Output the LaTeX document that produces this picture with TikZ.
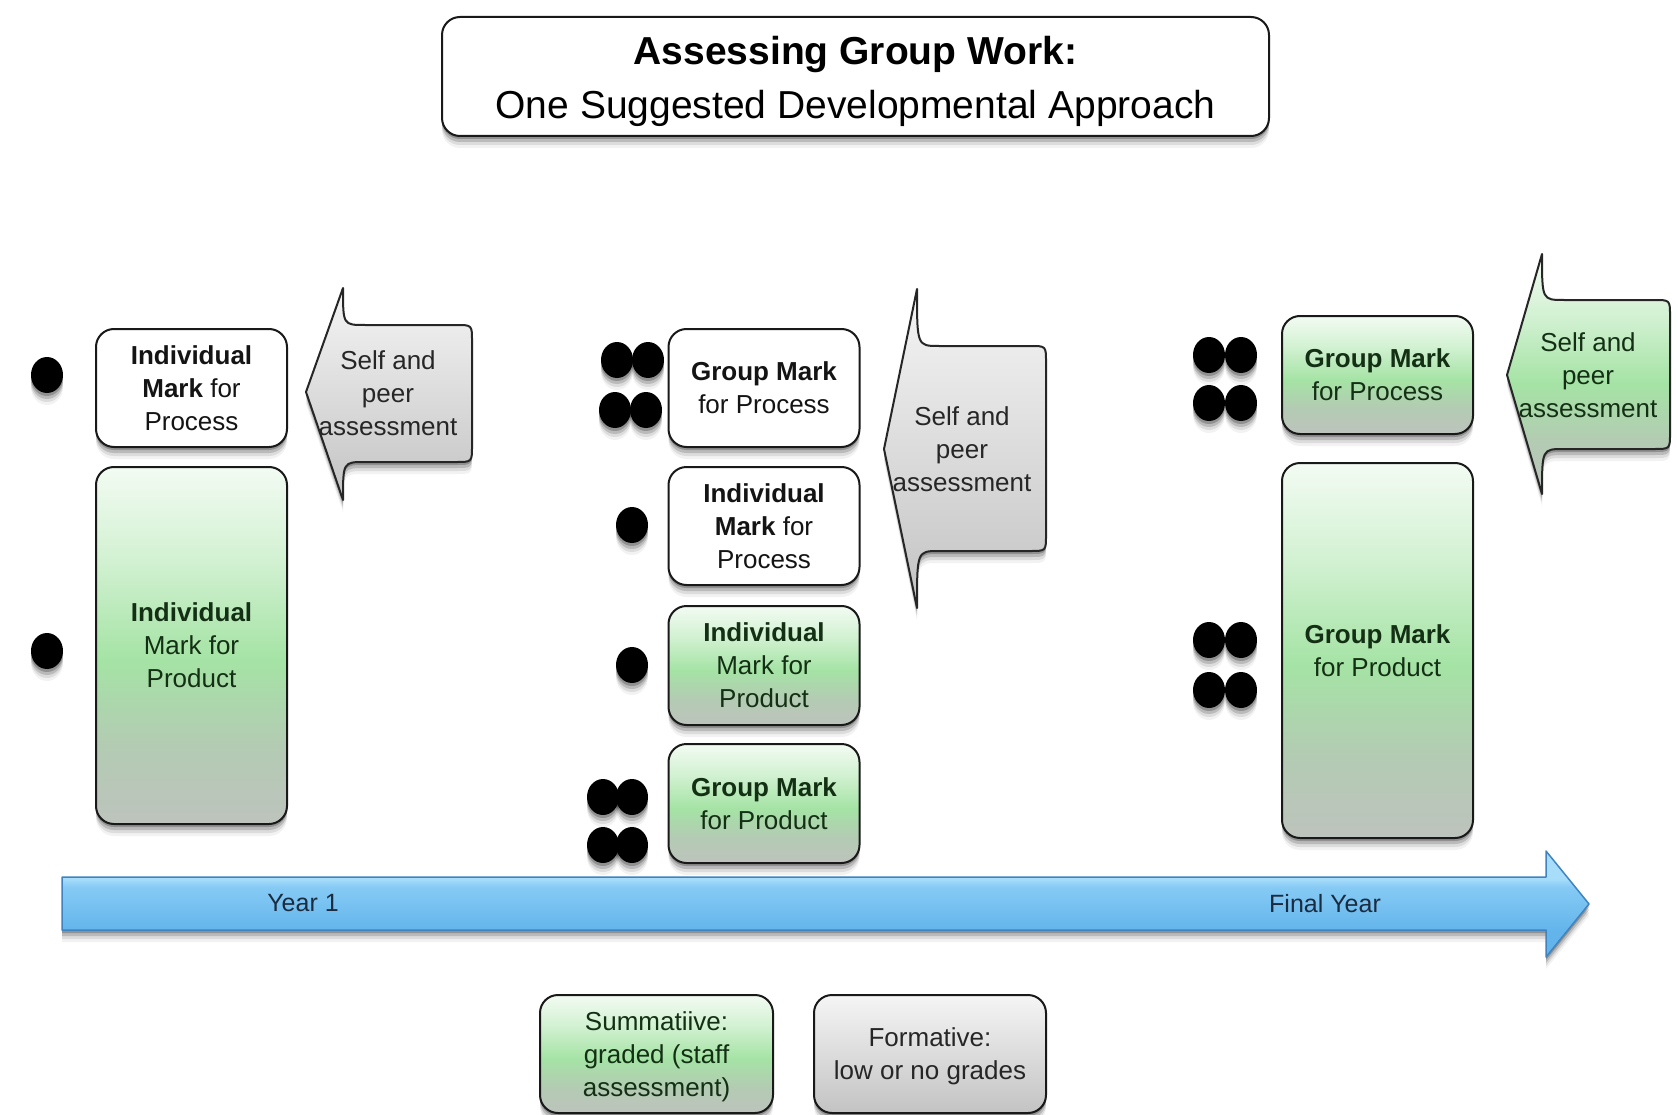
\documentclass[tikz,border=0pt]{standalone}
\usepackage{fontspec}
\setmainfont{Liberation Sans}
\usetikzlibrary{shadows,shapes.geometric}

\definecolor{gtop}{HTML}{F3FBF3}
\definecolor{glt}{HTML}{D2F1D2}
\definecolor{gmid}{HTML}{A5E3A5}
\definecolor{gbt}{HTML}{B3CBB3}
\definecolor{gbot}{HTML}{BDC3BD}
\definecolor{wtop}{HTML}{F5F5F5}
\definecolor{wbot}{HTML}{C3C3C3}
\definecolor{bhi}{HTML}{A8DDFA}
\definecolor{btop}{HTML}{86CAF5}
\definecolor{bbot}{HTML}{62B4EB}
\definecolor{bline}{HTML}{3F84C0}
\definecolor{txtgreen}{HTML}{143014}
\definecolor{navytext}{HTML}{1C2C40}

\pgfdeclareverticalshading{greenfill}{100bp}{color(0bp)=(gbot); color(25bp)=(gbot); color(36bp)=(gbt); color(48bp)=(gmid); color(62bp)=(glt); color(75bp)=(gtop); color(100bp)=(gtop)}
\pgfdeclareverticalshading{grayfill}{100bp}{color(0bp)=(wbot); color(25bp)=(wbot); color(75bp)=(wtop); color(100bp)=(wtop)}
\pgfdeclareverticalshading{bluefill}{100bp}{color(0bp)=(bbot); color(37bp)=(bbot); color(58bp)=(btop); color(62bp)=(bhi); color(100bp)=(bhi)}

% #1 tipx #2 tipy #3 headx #4 topy #5 boty #6 bodytop #7 bodybottom #8 bodyright #9 fill options
\newcommand\sparrowpath[9]{%
  \path[sparrow,#9] (#1,#2) -- (#3,#4) .. controls (#3,#6) .. (#3+22,#6)
    -- (#8-16,#6) .. controls (#8,#6) .. (#8,#6+16)
    -- (#8,#7-16) .. controls (#8,#7) .. (#8-16,#7)
    -- (#3+22,#7) .. controls (#3,#7) .. (#3,#5) -- cycle;}

\begin{document}
\begin{tikzpicture}[x=1pt,y=-1pt,
  every node/.style={font=\fontsize{26}{33}\selectfont},
  sh/.style={general shadow={shadow xshift=0pt,shadow yshift=-3pt,opacity=.22,fill=black},
             general shadow={shadow xshift=0pt,shadow yshift=-6pt,opacity=.15,fill=black},
             general shadow={shadow xshift=0pt,shadow yshift=-9pt,opacity=.09,fill=black},
             general shadow={shadow xshift=0pt,shadow yshift=-12pt,opacity=.05,fill=black}},
  box/.style={sh, draw=black!90, line width=2pt, rounded corners=18pt, minimum width=191pt, inner sep=0pt, align=center},
  whitebox/.style={box, fill=white, text=black!92},
  greenbox/.style={box, shade, shading=greenfill, text=txtgreen},
  graybox/.style={box, shade, shading=grayfill, text=black!85},
  dot/.style={ellipse, fill=black, minimum width=32pt, minimum height=36pt, inner sep=0pt, sh},
  sparrow/.style={sh, draw=black!85, line width=2pt, line join=round},
  sptext/.style={align=center, text=black!85},
  tltext/.style={text=navytext, font=\fontsize{25}{30}\selectfont}
]
\fill[white] (0,0) rectangle (1678,1115);
\useasboundingbox (0,0) rectangle (1678,1115);

% title
\node[whitebox, minimum width=827pt, minimum height=119pt] (title) at (855.5,76.5) {};
\node[align=center, font=\fontsize{39}{54}\selectfont] (titletext) at (855.5,81.5)
  {\textbf{Assessing Group Work:}\\One Suggested Developmental Approach};

% ---------- left column (Year 1)
\node[dot] (d1) at (47,375) {};
\node[whitebox, minimum height=118pt] (imp1) at (191.5,388) {\textbf{Individual}\\\textbf{Mark} for\\Process};
\node[dot] (d2) at (47,651) {};
\node[greenbox, minimum height=357pt] (impr1) at (191.5,645.5) {\textbf{Individual}\\Mark for\\Product};
\sparrowpath{306}{392}{343}{288}{500}{325}{462}{472}{shade,shading=grayfill}
\node[sptext] (sp1) at (388,393) {Self and\\peer\\assessment};

% ---------- middle column
\node[dot] (g2a) at (617,360) {};
\node[dot] (g2b) at (648,360) {};
\node[dot] (g2c) at (615,410) {};
\node[dot] (g2d) at (646,410) {};
\node[whitebox, minimum height=118pt] (gmp2) at (764,388) {\textbf{Group Mark}\\for Process};
\node[dot] (d3) at (632,525) {};
\node[whitebox, minimum height=118pt] (imp2) at (764,526) {\textbf{Individual}\\\textbf{Mark} for\\Process};
\node[dot] (d4) at (632,665) {};
\node[greenbox, minimum height=119pt] (impr2) at (764,665.5) {\textbf{Individual}\\Mark for\\Product};
\node[dot] (h2a) at (603,797) {};
\node[dot] (h2b) at (632,797) {};
\node[dot] (h2c) at (603,845) {};
\node[dot] (h2d) at (632,845) {};
\node[greenbox, minimum height=119pt] (gmpr2) at (764,803.5) {\textbf{Group Mark}\\for Product};
\sparrowpath{884}{449}{917}{289}{608}{346}{551}{1046}{shade,shading=grayfill}
\node[sptext] (sp2) at (962,449) {Self and\\peer\\assessment};

% ---------- right column (Final Year)
\node[dot] (g3a) at (1209,355) {};
\node[dot] (g3b) at (1241,355) {};
\node[dot] (g3c) at (1209,403) {};
\node[dot] (g3d) at (1241,403) {};
\node[greenbox, minimum height=118pt] (gmp3) at (1377.5,375) {\textbf{Group Mark}\\for Process};
\sparrowpath{1507}{375}{1542}{254}{494}{300}{449}{1670}{shade,shading=greenfill}
\node[sptext, text=txtgreen] (sp3) at (1588,375) {Self and\\peer\\assessment};
\node[dot] (h3a) at (1209,640) {};
\node[dot] (h3b) at (1241,640) {};
\node[dot] (h3c) at (1209,690) {};
\node[dot] (h3d) at (1241,690) {};
\node[greenbox, minimum height=375pt] (gmpr3) at (1377.5,650.5) {\textbf{Group Mark}\\for Product};

% ---------- timeline
\path[sh, draw=bline, line width=1.5pt, shade, shading=bluefill, line join=round]
  (62,877) -- (1546,877) -- (1546,851) -- (1589,904) -- (1546,957) -- (1546,930) -- (62,930) -- cycle;
\node[tltext] (y1) at (303,903) {Year 1};
\node[tltext] (fy) at (1325,904) {Final Year};

% ---------- legend
\node[greenbox, minimum width=233pt, minimum height=118pt] (summ) at (656.5,1054) {};
\node[align=center, text=txtgreen] (summtext) at (656.5,1057) {Summatiive:\\graded (staff\\assessment)};
\node[graybox, minimum width=232pt, minimum height=118pt] (form) at (930,1054) {};
\node[align=center, text=black!85] (formtext) at (930,1056) {Formative:\\low or no grades};
\end{tikzpicture}
\end{document}
